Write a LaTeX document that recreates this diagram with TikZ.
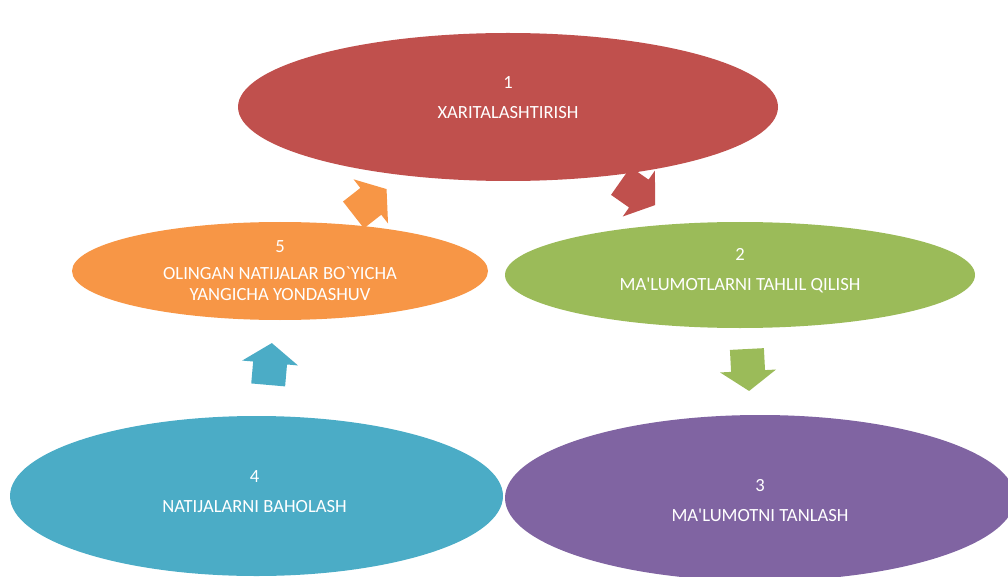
\documentclass[tikz,border=0pt]{standalone}
\usepackage{fontspec}
\setmainfont{Carlito}[Ligatures=TeXOff]
\definecolor{StepRed}{HTML}{C0504D}
\definecolor{StepGreen}{HTML}{9BBB59}
\definecolor{StepPurple}{HTML}{8064A2}
\definecolor{StepBlue}{HTML}{4BACC6}
\definecolor{StepOrange}{HTML}{F79646}
\usepackage{tikz}
\usetikzlibrary{shapes.geometric, positioning}

\tikzset{
    stage/.style={ellipse, inner sep=0pt},
    stagetext/.style={text=white, align=center, font=\fontsize{18.6}{24}\selectfont},
    turn/.pic={\fill (-21,-17) -- (1,-17) -- (1,-28) -- (21,0) -- (1,28) -- (1,17) -- (-21,17) -- cycle;}
}

\begin{document}
\begin{tikzpicture}[x=1pt, y=-1pt]
            \useasboundingbox (0,0) rectangle (1008,577);

            % Stage 1
            \node[stage, fill=StepRed, minimum width=540, minimum height=148] (xarita) at (508,107) {};
            \node[stagetext, yshift=9] (xaritatext) at (xarita) {1\\[6pt]XARITALASHTIRISH};

            % Stage 2
            \node[stage, fill=StepGreen, minimum width=470, minimum height=106] (tahlil) at (740,275) {};
            \node[stagetext, yshift=4] (tahliltext) at (tahlil) {2\\[6pt]MA'LUMOTLARNI TAHLIL QILISH};

            % Stage 3
            \node[stage, fill=StepPurple, minimum width=510, minimum height=166] (tanlash) at (760,498) {};
            \node[stagetext, yshift=-3] (tanlashtext) at (tanlash) {3\\[6pt]MA'LUMOTNI TANLASH};

            % Stage 4
            \node[stage, fill=StepBlue, minimum width=493, minimum height=160] (baholash) at (256.5,496) {};
            \node[stagetext, xshift=-2, yshift=4] (baholashtext) at (baholash) {4\\[6pt]NATIJALARNI BAHOLASH};

            % Stage 5
            \node[stage, fill=StepOrange, minimum width=416, minimum height=98] (yondashuv) at (280,271) {};
            \node[stagetext] (yondashuvtext) at (yondashuv) {5\\[3pt]OLINGAN NATIJALAR BO`YICHA\\[-3pt]YANGICHA YONDASHUV};

            % Cycle arrows
            \pic[StepRed, rotate=-35] at (638,193) {turn};
            \pic[StepGreen, rotate=-87] at (748,370) {turn};
            \pic[StepBlue, rotate=85] at (270,364) {turn};
            \pic[StepOrange, rotate=38] at (370,202) {turn};
\end{tikzpicture}
\end{document}
